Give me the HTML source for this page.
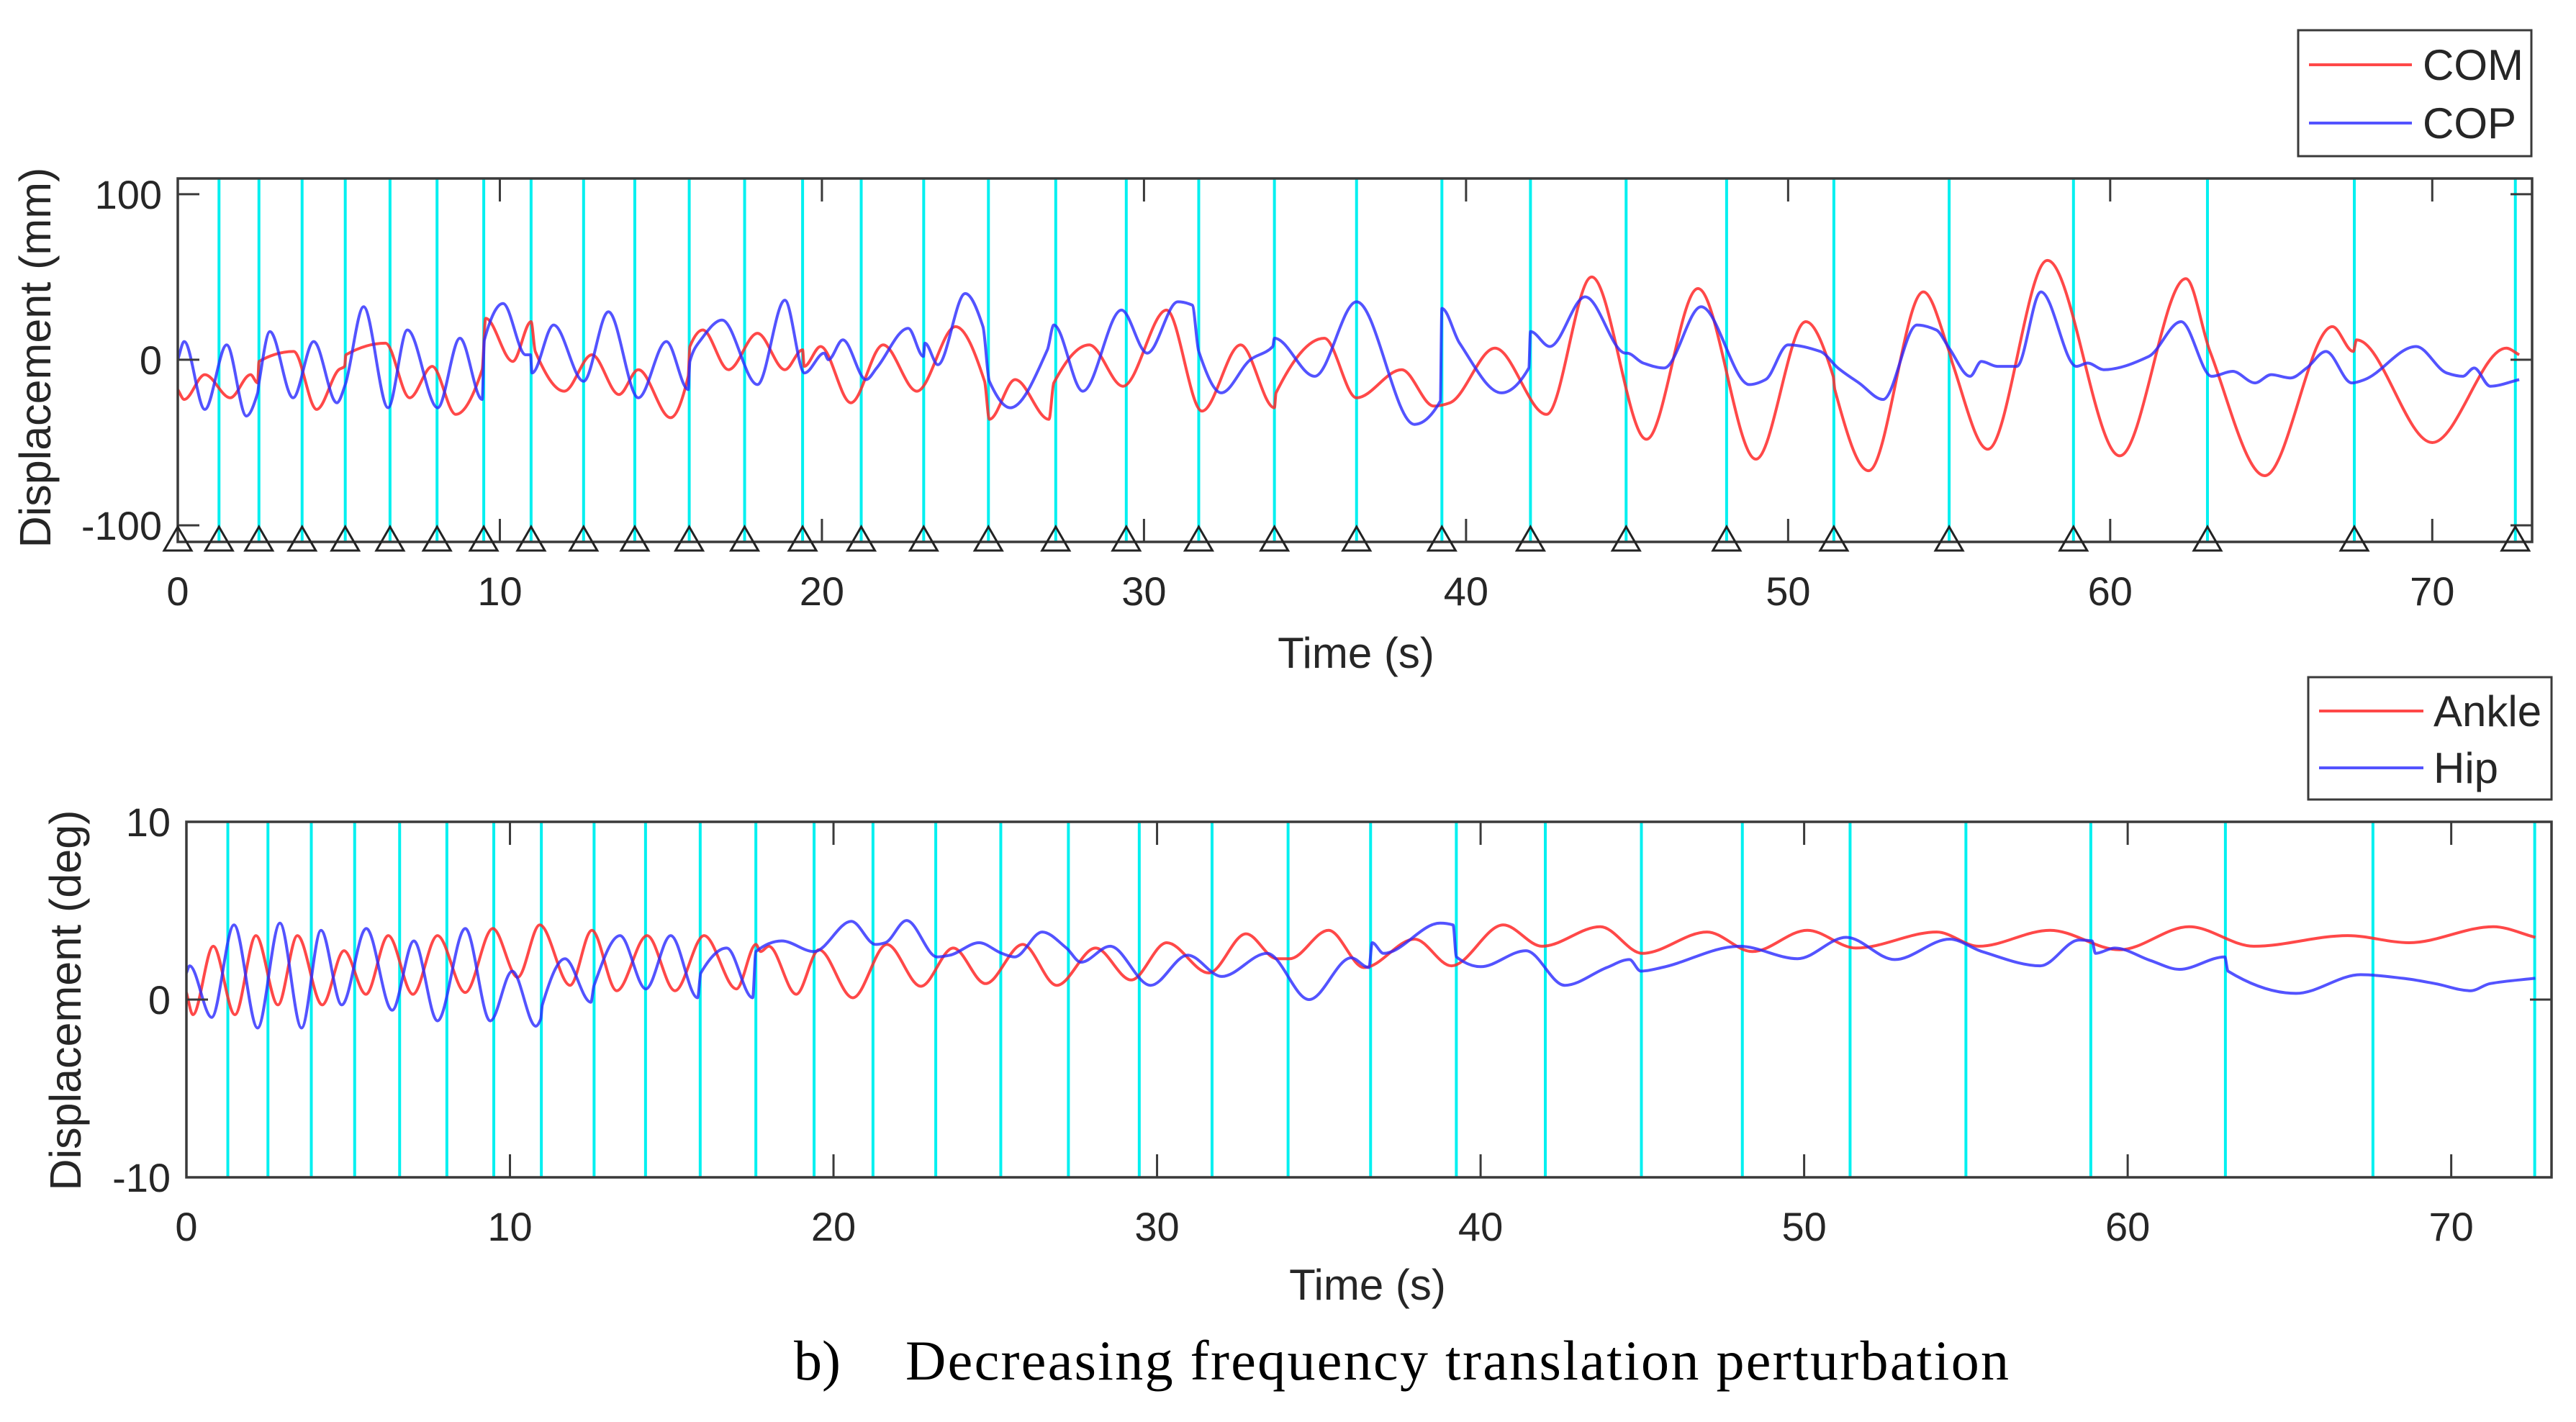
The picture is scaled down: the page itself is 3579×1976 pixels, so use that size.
<!DOCTYPE html>
<html><head><meta charset="utf-8"><style>
html,body{margin:0;padding:0;background:#fff;}
svg{display:block;}
text{font-family:"Liberation Sans",Arial,sans-serif;fill:#262626;}
</style></head><body>
<svg id="fig" width="3579" height="1976" viewBox="0 0 3579 1976" xmlns="http://www.w3.org/2000/svg">
<rect width="3579" height="1976" fill="#fff"/>
<g id="top"></g>
<g id="bot"></g>
<text x="1103" y="1917" style="font-family:'Liberation Serif',serif;font-size:78px;fill:#000">b)</text>
<text x="1258" y="1917" textLength="1533" style="font-family:'Liberation Serif',serif;font-size:78px;fill:#000">Decreasing frequency translation perturbation</text>
</svg>
<script>
const perturbTimes=[1.28,2.52,3.86,5.2,6.59,8.05,9.5,10.97,12.6,14.19,15.88,17.6,19.4,21.22,23.16,25.17,27.26,29.45,31.7,34.05,36.6,39.25,42.0,44.97,48.09,51.42,55.0,58.86,63.02,67.58,72.58];
const markerTimes=[0].concat(perturbTimes);
const topTicksX=[0,10,20,30,40,50,60,70];
const topTicksY=[-100,0,100];
const botTicksY=[-10,0,10];
const comT=[0,0.2,0.84,1.63,2.26,2.48,2.52,3.6,4.31,5.0,5.18,5.22,6.45,7.2,7.9,8.63,9.45,9.56,10.4,10.97,11.1,12.0,12.86,13.7,14.3,15.3,15.85,15.9,16.3,17.1,18.0,18.85,19.4,19.45,19.96,20.9,21.9,22.95,24.15,25.05,25.2,26.0,27.05,27.2,28.3,29.35,30.7,31.8,33.0,34.05,34.1,35.6,36.6,38.0,39.0,39.5,40.9,42.5,43.9,45.6,47.2,49.0,50.55,51.4,51.45,52.5,54.2,55.0,55.1,56.2,58.05,60.3,62.35,63.1,64.8,66.9,67.55,67.65,70.0,72.3,72.7];
const comV=[-18,-24,-9,-23,-9,-14,-1,5,-30,-6,-4,3,10,-23,-4,-33,-6,25,-1,23,5,-19,3,-21,-6,-35,-10,8,18,-6,16,-6,6,-4,8,-26,9,-19,20,-13,-36,-12,-36,-14,9,-16,30,-31,9,-29,-20,13,-23,-6,-28,-26,7,-33,50,-48,43,-60,23,-10,-18,-67,41,5,-2,-54,60,-58,49,5,-70,20,5,12,-50,7,3];
const copT=[0,0.2,0.84,1.52,2.13,2.48,2.52,2.86,3.58,4.22,4.94,5.2,5.77,6.53,7.13,8.07,8.76,9.45,9.52,10.1,10.8,10.95,11.0,11.67,12.6,13.37,14.3,15.17,15.85,15.9,16.2,16.9,18.0,18.85,19.46,20.07,20.2,20.65,21.37,21.7,22.68,23.15,23.2,23.6,24.45,25.0,25.2,25.85,27.0,27.2,28.1,29.3,30.1,31.05,31.5,31.7,32.4,33.3,34.0,34.05,35.3,36.6,38.4,39.2,39.25,39.8,41.1,41.95,42.0,42.6,43.7,44.95,45.0,45.5,46.15,47.3,48.8,49.3,50.0,51.0,51.55,52.2,52.95,54.0,54.6,55.0,55.65,56.0,56.5,57.1,57.85,58.95,59.3,59.8,61.2,62.2,63.15,63.8,64.5,65.0,65.6,66.1,66.7,67.5,67.9,69.5,70.45,70.95,71.3,71.8,72.7];
const copV=[0,11,-30,9,-34,-20,-14,17,-23,11,-26,-15,32,-29,18,-29,13,-24,12,34,3,3,-8,21,-13,29,-23,11,-18,-1,11,24,-15,36,-8,4,0,12,-12,-5,19,2,10,-3,40,20,-13,-29,6,21,-19,30,4,35,33,5,-20,0,8,13,-10,35,-39,-25,31,10,-20,-5,17,8,38,4,4,-2,-5,32,-15,-12,9,5,-5,-14,-24,21,18,7,-10,-1,-4,-4,41,-4,-2,-6,2,23,-10,-7,-14,-9,-11,-5,5,-14,-12,8,-8,-10,-5,-16,-12];
const ankT=[0,0.2,0.83,1.5,2.15,2.83,3.43,4.2,4.87,5.55,6.24,7.0,7.76,8.62,9.47,10.24,10.92,11.86,12.53,13.3,14.24,15.1,16.0,17.0,17.6,17.75,18.0,18.85,19.55,20.6,21.65,22.7,23.7,24.7,25.85,26.9,28.1,29.2,30.3,31.6,32.75,33.7,34.1,35.3,36.4,37.96,39.1,40.7,41.9,43.7,45.0,47.0,48.4,50.1,51.6,54.1,55.4,57.6,59.75,61.9,63.9,66.8,68.7,71.3,72.6];
const ankV=[0.4,-0.85,3.0,-0.85,3.6,-0.3,3.6,-0.3,2.75,0.3,3.6,0.3,3.6,0.4,4.0,1.25,4.2,0.8,3.9,0.5,3.6,0.5,3.6,0.6,3.1,2.7,3.0,0.3,2.8,0.1,3.1,0.75,2.9,0.9,3.1,0.8,2.9,1.1,3.2,1.5,3.7,2.3,2.3,3.9,1.8,3.4,1.9,4.2,3.0,4.1,2.6,3.8,2.7,3.9,2.9,3.8,3.0,3.9,2.8,4.1,3.0,3.6,3.2,4.1,3.5];
const hipT=[0,0.1,0.78,1.47,2.2,2.89,3.56,4.16,4.8,5.56,6.36,7.03,7.76,8.62,9.39,10.07,10.8,10.95,11.0,11.7,12.5,12.6,13.4,14.2,14.97,15.8,15.9,16.7,17.5,17.6,18.4,19.4,20.55,21.3,21.6,22.26,23.2,23.6,24.5,25.2,25.6,26.45,27.2,27.65,28.55,29.8,30.95,32.0,33.4,34.7,36.0,36.55,36.65,37.0,38.75,39.15,39.25,40.0,41.4,42.6,43.9,44.6,44.95,45.6,48.0,49.8,51.3,52.8,54.5,55.5,57.3,58.5,58.9,59.0,59.6,60.7,61.6,63.0,63.1,65.2,67.2,68.5,69.5,70.6,71.2,72.6];
const hipV=[1.5,1.9,-1.0,4.2,-1.6,4.3,-1.6,3.9,-0.3,4.0,-0.6,3.3,-1.2,4.0,-1.2,1.6,-1.5,-1.1,-0.3,2.3,-0.15,0.8,3.6,0.6,3.6,0.1,1.5,2.9,0.1,2.7,3.3,2.7,4.4,3.1,3.2,4.45,2.4,2.5,3.2,2.6,2.4,3.8,2.9,2.1,3.0,0.8,2.5,1.3,2.6,0.0,2.35,1.8,3.2,2.6,4.3,4.2,2.4,1.85,2.75,0.8,1.8,2.25,1.6,1.8,3.0,2.3,3.5,2.25,3.4,2.7,1.9,3.35,3.3,2.6,2.9,2.2,1.7,2.4,1.6,0.35,1.4,1.2,0.9,0.5,0.9,1.2];

const NS='http://www.w3.org/2000/svg';
function mk(parent,tag,attrs,txt){const e=document.createElementNS(NS,tag);for(const k in attrs)e.setAttribute(k,attrs[k]);if(txt!==undefined)e.textContent=txt;parent.appendChild(e);return e;}
function linScale(d0,d1,r0,r1){return v=>r0+(v-d0)*(r1-r0)/(d1-d0);}
function monoPath(xs,ys){
  const n=xs.length,d=[],m=[];
  for(let i=0;i<n-1;i++)d.push((ys[i+1]-ys[i])/(xs[i+1]-xs[i]));
  m[0]=d[0];m[n-1]=d[n-2];
  for(let i=1;i<n-1;i++){m[i]=(d[i-1]*d[i]<=0)?0:(2/(1/d[i-1]+1/d[i]));}
  let s='M'+xs[0].toFixed(1)+','+ys[0].toFixed(1);
  for(let i=0;i<n-1;i++){const h=(xs[i+1]-xs[i])/3;
    s+=' C'+(xs[i]+h).toFixed(1)+','+(ys[i]+m[i]*h).toFixed(1)+' '+(xs[i+1]-h).toFixed(1)+','+(ys[i+1]-m[i+1]*h).toFixed(1)+' '+xs[i+1].toFixed(1)+','+ys[i+1].toFixed(1);}
  return s;
}
function axes(g,cfg){
  const X=linScale(0,cfg.xmax,cfg.x0,cfg.x1),Y=linScale(cfg.ymin,cfg.ymax,cfg.y1,cfg.y0);
  const clipId=cfg.id+'clip';
  const defs=mk(g,'defs',{});const cp=mk(defs,'clipPath',{id:clipId});mk(cp,'rect',{x:cfg.x0,y:cfg.y0,width:cfg.x1-cfg.x0,height:cfg.y1-cfg.y0});
  const gl=mk(g,'g',{'clip-path':'url(#'+clipId+')'});
  perturbTimes.forEach(t=>{const l=mk(gl,'line',{x1:X(t),x2:X(t),y1:cfg.y0,y2:cfg.y1,stroke:'#00f0f0','stroke-width':4});
    
    });
  cfg.series.forEach(s=>{const p=mk(gl,'path',{d:monoPath(s.t.map(X),s.v.map(Y)),fill:'none',stroke:s.color,'stroke-width':4,'stroke-linejoin':'round'});
    
    });
  const ax=mk(g,'g',{});
  
  
  mk(ax,'rect',{x:cfg.x0,y:cfg.y0,width:cfg.x1-cfg.x0,height:cfg.y1-cfg.y0,fill:'none',stroke:'#3a3a3a','stroke-width':3.5});
  topTicksX.forEach(v=>{const x=X(v);
    mk(ax,'line',{x1:x,x2:x,y1:cfg.y1,y2:cfg.y1-32,stroke:'#3a3a3a','stroke-width':3});
    mk(ax,'line',{x1:x,x2:x,y1:cfg.y0,y2:cfg.y0+32,stroke:'#3a3a3a','stroke-width':3});
    const t=mk(ax,'text',{x:x,y:cfg.y1+88,'text-anchor':'middle','font-size':56},String(v));
    
    });
  cfg.yticks.forEach(v=>{const y=Y(v);
    mk(ax,'line',{x1:cfg.x0,x2:cfg.x0+30,y1:y,y2:y,stroke:'#3a3a3a','stroke-width':3});
    mk(ax,'line',{x1:cfg.x1,x2:cfg.x1-30,y1:y,y2:y,stroke:'#3a3a3a','stroke-width':3});
    const t=mk(ax,'text',{x:cfg.x0-22,y:y+20,'text-anchor':'end','font-size':56},String(v));
    
    });
  const xl=mk(g,'text',{x:cfg.xlx,y:cfg.xly,'text-anchor':'middle','font-size':60},'Time (s)');
  
  
  const yl=mk(g,'text',{x:0,y:0,'text-anchor':'middle','font-size':61,transform:'translate('+cfg.ylx+','+cfg.yly+') rotate(-90)'},cfg.ylabel);
  
  
  if(cfg.markers){markerTimes.forEach(t=>{const x=X(t),yb=cfg.y1;
    const m=mk(g,'path',{d:'M'+(x-19)+','+(yb+12)+' L'+x+','+(yb-21)+' L'+(x+19)+','+(yb+12)+' Z',fill:'none',stroke:'#222','stroke-width':3});
    
    });}
  const L=cfg.legend;
  const lg=mk(g,'g',{});
  
  
  mk(lg,'rect',{x:L.x,y:L.y,width:L.w,height:L.h,fill:'#fff',stroke:'#3a3a3a','stroke-width':3});
  cfg.series.forEach((s,i)=>{const yy=L.rows[i];
    mk(lg,'line',{x1:L.lx0,x2:L.lx1,y1:yy,y2:yy,stroke:s.color,'stroke-width':4});
    const e=mk(lg,'text',{x:L.tx,y:yy+21,'font-size':60,fill:'#000'},s.label);
    
    });
}
axes(document.getElementById('top'),{id:'top',x0:247,x1:3518,y0:248,y1:753,xmax:73.1,ymin:-110,ymax:109.5,yticks:topTicksY,
  xlx:1884,xly:928,ylx:70,yly:497,ylabel:'Displacement (mm)',markers:true,
  series:[{t:comT,v:comV,color:'rgba(255,40,40,0.85)',name:'com-line',label:'COM'},{t:copT,v:copV,color:'rgba(40,40,255,0.8)',name:'cop-line',label:'COP'}],
  legend:{x:3193,y:42,w:324,h:175,rows:[90,171],lx0:3208,lx1:3351,tx:3366}});
axes(document.getElementById('bot'),{id:'bot',x0:259,x1:3545,y0:1142,y1:1636,xmax:73.1,ymin:-10,ymax:10,yticks:botTicksY,
  xlx:1900,xly:1806,ylx:112,yly:1390,ylabel:'Displacement (deg)',markers:false,
  series:[{t:ankT,v:ankV,color:'rgba(255,40,40,0.85)',name:'ankle-line',label:'Ankle'},{t:hipT,v:hipV,color:'rgba(40,40,255,0.8)',name:'hip-line',label:'Hip'}],
  legend:{x:3207,y:941,w:338,h:170,rows:[988,1067],lx0:3222,lx1:3367,tx:3381}});
</script>
</body></html>
